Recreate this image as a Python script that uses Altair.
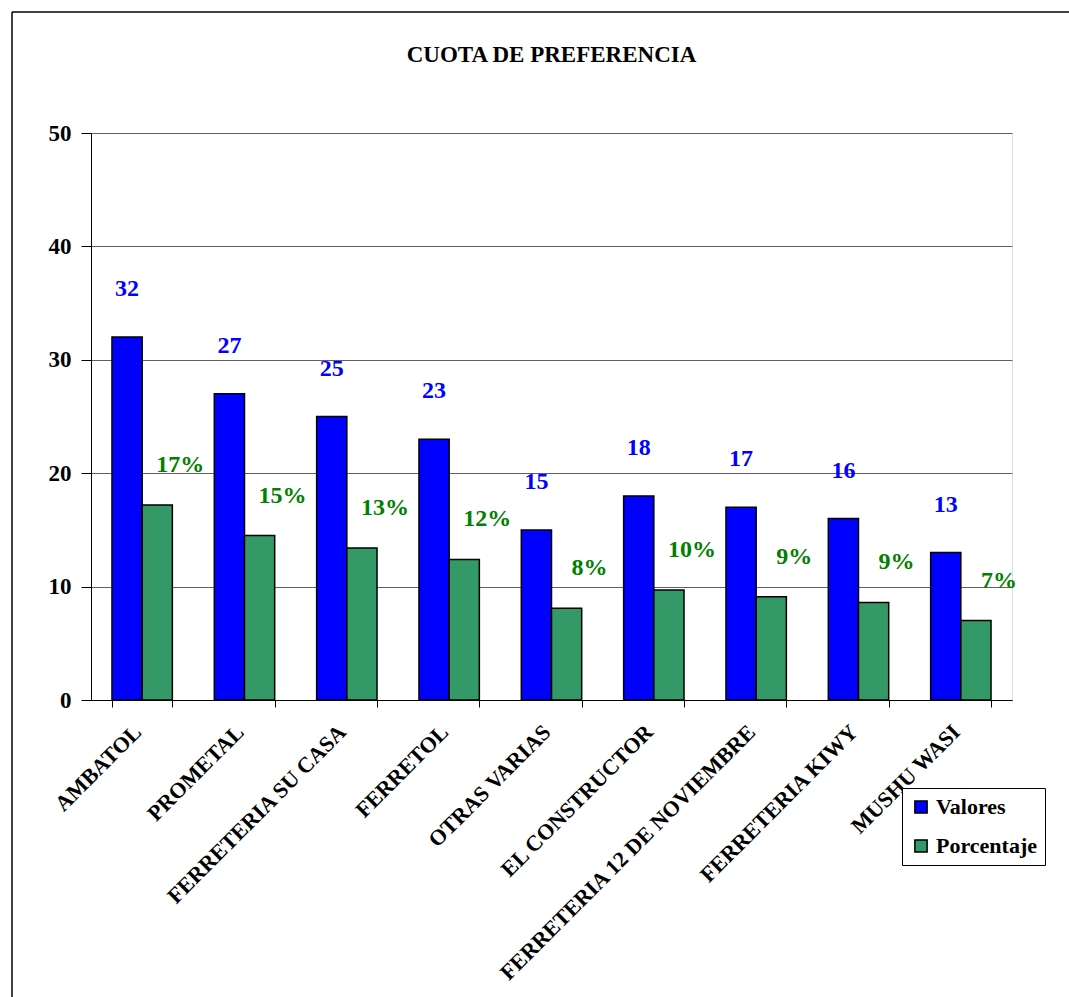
import altair as alt
import pandas as pd

FONT = "Liberation Serif"

categories = ["AMBATOL", "PROMETAL", "FERRETERIA SU CASA", "FERRETOL", "OTRAS VARIAS",
              "EL CONSTRUCTOR", "FERRETERIA 12 DE NOVIEMBRE", "FERRETERIA KIWY", "MUSHU WASI"]
valores = [32, 27, 25, 23, 15, 18, 17, 16, 13]
porcentaje = [17.2, 14.5, 13.4, 12.4, 8.1, 9.7, 9.1, 8.6, 7.0]
porcentaje_labels = ["17%", "15%", "13%", "12%", "8%", "10%", "9%", "9%", "7%"]
series = ["Valores", "Porcentaje"]
series_colors = ["#0000FF", "#339966"]
y_ticks = [0, 10, 20, 30, 40, 50]

rows = []
for c, v, p, pl in zip(categories, valores, porcentaje, porcentaje_labels):
    rows.append({"Categoria": c, "Serie": "Valores", "Valor": v, "Etiqueta": str(v)})
    rows.append({"Categoria": c, "Serie": "Porcentaje", "Valor": p, "Etiqueta": pl})
df = pd.DataFrame(rows)

x_enc = alt.X(
    "Categoria:N", sort=categories,
    scale=alt.Scale(paddingInner=0.41, paddingOuter=0.205),
    axis=alt.Axis(title=None, labelAngle=-45, labelFont=FONT, labelFontSize=22,
                  labelFontWeight="bold", labelColor="black", labelLimit=600,
                  tickBand="extent", tickSize=7, tickColor="black", domainColor="black",
                  labelPadding=14, labelOffset=-12, grid=False),
)
xoff_enc = alt.XOffset("Serie:N", sort=series,
                       scale=alt.Scale(domain=series, paddingInner=0, paddingOuter=0))
y_enc = alt.Y(
    "Valor:Q", scale=alt.Scale(domain=[0, 50], nice=False),
    axis=alt.Axis(values=y_ticks, title=None, labelFont=FONT, labelFontSize=23,
                  labelFontWeight="bold", labelColor="black", grid=True,
                  gridColor="#606060", gridWidth=1, tickSize=10, tickColor="black",
                  domainColor="black", labelPadding=10),
)

base = alt.Chart(df)

bars = base.mark_bar(stroke="black", strokeWidth=1.5).encode(
    x=x_enc, xOffset=xoff_enc, y=y_enc,
    color=alt.Color("Serie:N", sort=series,
                    scale=alt.Scale(domain=series, range=series_colors),
                    legend=alt.Legend(title=None, orient="none", legendX=811, legendY=655,
                                      labelFont=FONT, labelFontSize=22, labelFontWeight="bold",
                                      labelColor="black", symbolType="square", symbolSize=150,
                                      symbolStrokeColor="black", symbolStrokeWidth=1.5,
                                      strokeColor="black", fillColor="white",
                                      padding=8, rowPadding=17)),
)

blue_text = base.transform_filter(alt.datum.Serie == "Valores").mark_text(
    font=FONT, fontSize=24, fontWeight="bold", color="#0000FF", dy=-48, baseline="middle"
).encode(x=x_enc, xOffset=xoff_enc, y=y_enc, text="Etiqueta:N")

green_text = base.transform_filter(alt.datum.Serie == "Porcentaje").mark_text(
    font=FONT, fontSize=24, fontWeight="bold", color="#008000", dx=23, dy=-40, baseline="middle"
).encode(x=x_enc, xOffset=xoff_enc, y=y_enc, text="Etiqueta:N")

frame_df = pd.DataFrame({"f": [0]})
frame_top = alt.Chart(frame_df).mark_rule(color="black", strokeWidth=1.5).encode(
    x=alt.value(-79), x2=alt.value(1000), y=alt.value(-121))
frame_left = alt.Chart(frame_df).mark_rule(color="black", strokeWidth=1.5).encode(
    x=alt.value(-79), y=alt.value(-121), y2=alt.value(900))

chart = alt.layer(bars, blue_text, green_text, frame_top, frame_left).properties(
    width=921, height=567,
    title=alt.TitleParams("CUOTA DE PREFERENCIA", font=FONT, fontSize=23,
                          fontWeight="bold", color="black", offset=-74,
                          baseline="alphabetic", anchor="middle"),
    autosize=alt.AutoSizeParams(type="none"),
    padding={"left": 91, "top": 133, "right": 57, "bottom": 297},
).configure_view(stroke="#808080", strokeWidth=1).configure(background="white")

chart.save("out.html", embed_options={"renderer": "svg", "actions": False})
